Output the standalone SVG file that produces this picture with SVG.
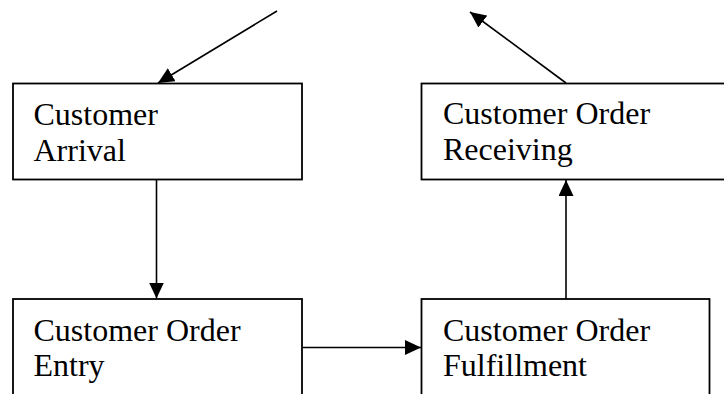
<svg xmlns="http://www.w3.org/2000/svg" width="724" height="394" viewBox="0 0 724 394">
<defs>
<marker id="ah" viewBox="0 0 16 15" refX="16" refY="7.5" markerWidth="16" markerHeight="15" markerUnits="userSpaceOnUse" orient="auto">
<path d="M0,0 L16,7.5 L0,15 Z" fill="#000"/>
</marker>
<style>
.box{fill:#fff;stroke:#000;stroke-width:1.8}
.lbl{font-family:"Liberation Serif","Times New Roman",serif;font-size:32px;fill:#000}
.con{stroke:#000;stroke-width:1.6;fill:none;marker-end:url(#ah)}
</style>
</defs>
<rect width="724" height="394" fill="#fff"/>
<g id="node-arrival">
<rect class="box" x="13" y="83.5" width="289" height="96"/>
<text class="lbl" x="33.5" y="125">Customer</text>
<text class="lbl" x="33.5" y="161">Arrival</text>
</g>
<g id="node-receiving">
<rect class="box" x="421.5" y="83.5" width="310" height="96"/>
<text class="lbl" x="443" y="124">Customer Order</text>
<text class="lbl" x="443" y="159.5">Receiving</text>
</g>
<g id="node-entry">
<rect class="box" x="13" y="299" width="289" height="110"/>
<text class="lbl" x="33.5" y="340.5">Customer Order</text>
<text class="lbl" x="33.5" y="376">Entry</text>
</g>
<g id="node-fulfillment">
<rect class="box" x="421.5" y="299" width="288" height="110"/>
<text class="lbl" x="443" y="340.5">Customer Order</text>
<text class="lbl" x="443" y="376">Fulfillment</text>
</g>
<g id="connectors">
<line class="con" x1="277" y1="11" x2="158" y2="83"/>
<line class="con" x1="566" y1="83" x2="470" y2="12"/>
<line class="con" x1="156.5" y1="180" x2="156.5" y2="298.5"/>
<line class="con" x1="302" y1="347.5" x2="421" y2="347.5"/>
<line class="con" x1="566" y1="299" x2="566" y2="180"/>
</g>
</svg>
